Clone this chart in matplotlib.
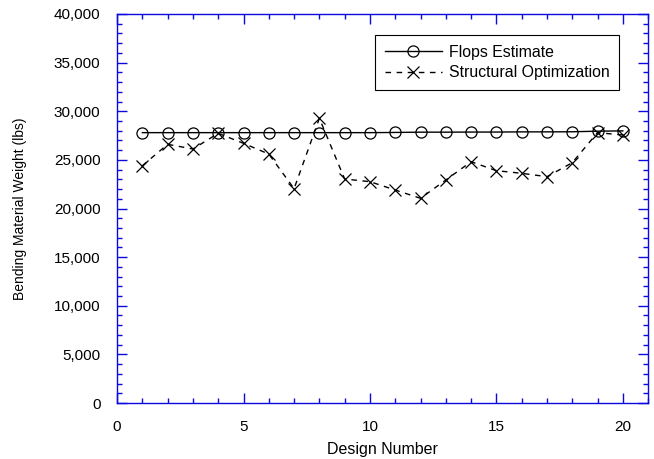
import matplotlib
matplotlib.use("Agg")
import matplotlib.pyplot as plt
from matplotlib.ticker import MultipleLocator, FuncFormatter

plt.rcParams['font.family'] = ['Liberation Sans', 'DejaVu Sans']

designs = list(range(1, 21))
flops_estimate = [27800, 27800, 27800, 27800, 27800, 27800, 27800, 27800, 27800, 27800,
                  27820, 27850, 27850, 27860, 27860, 27880, 27880, 27890, 27950, 27980]
structural_opt = [24400, 26600, 26120, 27730, 26700, 25600, 22040, 29270, 23030, 22760,
                  21900, 21050, 22930, 24810, 23890, 23620, 23270, 24710, 27800, 27560]

fig = plt.figure(figsize=(6.54, 4.59), dpi=100)
ax = fig.add_axes([0.179, 0.122, 0.812, 0.8475])

ax.plot(designs, flops_estimate, color='black', lw=1, marker='o', ms=8,
        mfc='none', mec='black', mew=0.9, label='Flops Estimate')
ax.plot(designs, structural_opt, color='black', lw=1, ls=(0, (4, 4)), marker='x', ms=8,
        mew=0.9, label='Structural Optimization')

ax.set_xlim(0, 21)
ax.set_ylim(0, 40000)
ax.xaxis.set_major_locator(MultipleLocator(5))
ax.xaxis.set_minor_locator(MultipleLocator(1))
ax.yaxis.set_major_locator(MultipleLocator(5000))
ax.yaxis.set_minor_locator(MultipleLocator(1000))
ax.yaxis.set_major_formatter(FuncFormatter(lambda v, p: f"{int(v):,}"))

blue = '#0a0ae0'
for s in ax.spines.values():
    s.set_color(blue)
    s.set_linewidth(1)
ax.tick_params(which='both', direction='in', top=True, right=True, color=blue,
               labelsize=11, labelcolor='black')
ax.tick_params(which='major', length=7.5, width=1, pad=12)
ax.tick_params(which='minor', length=3.8, width=1)

ax.set_xlabel('Design Number', fontsize=11.5, labelpad=6)
ax.set_ylabel('Bending Material Weight (lbs)', fontsize=10, labelpad=19)

leg = ax.legend(loc='upper right', bbox_to_anchor=(0.945, 0.946), borderaxespad=0,
                fontsize=11.4, fancybox=False, edgecolor='black', framealpha=1,
                handlelength=3.65, handletextpad=0.4, borderpad=0.6, labelspacing=0.35)
leg.get_frame().set_linewidth(0.8)

fig.savefig('out.png', dpi=100)
